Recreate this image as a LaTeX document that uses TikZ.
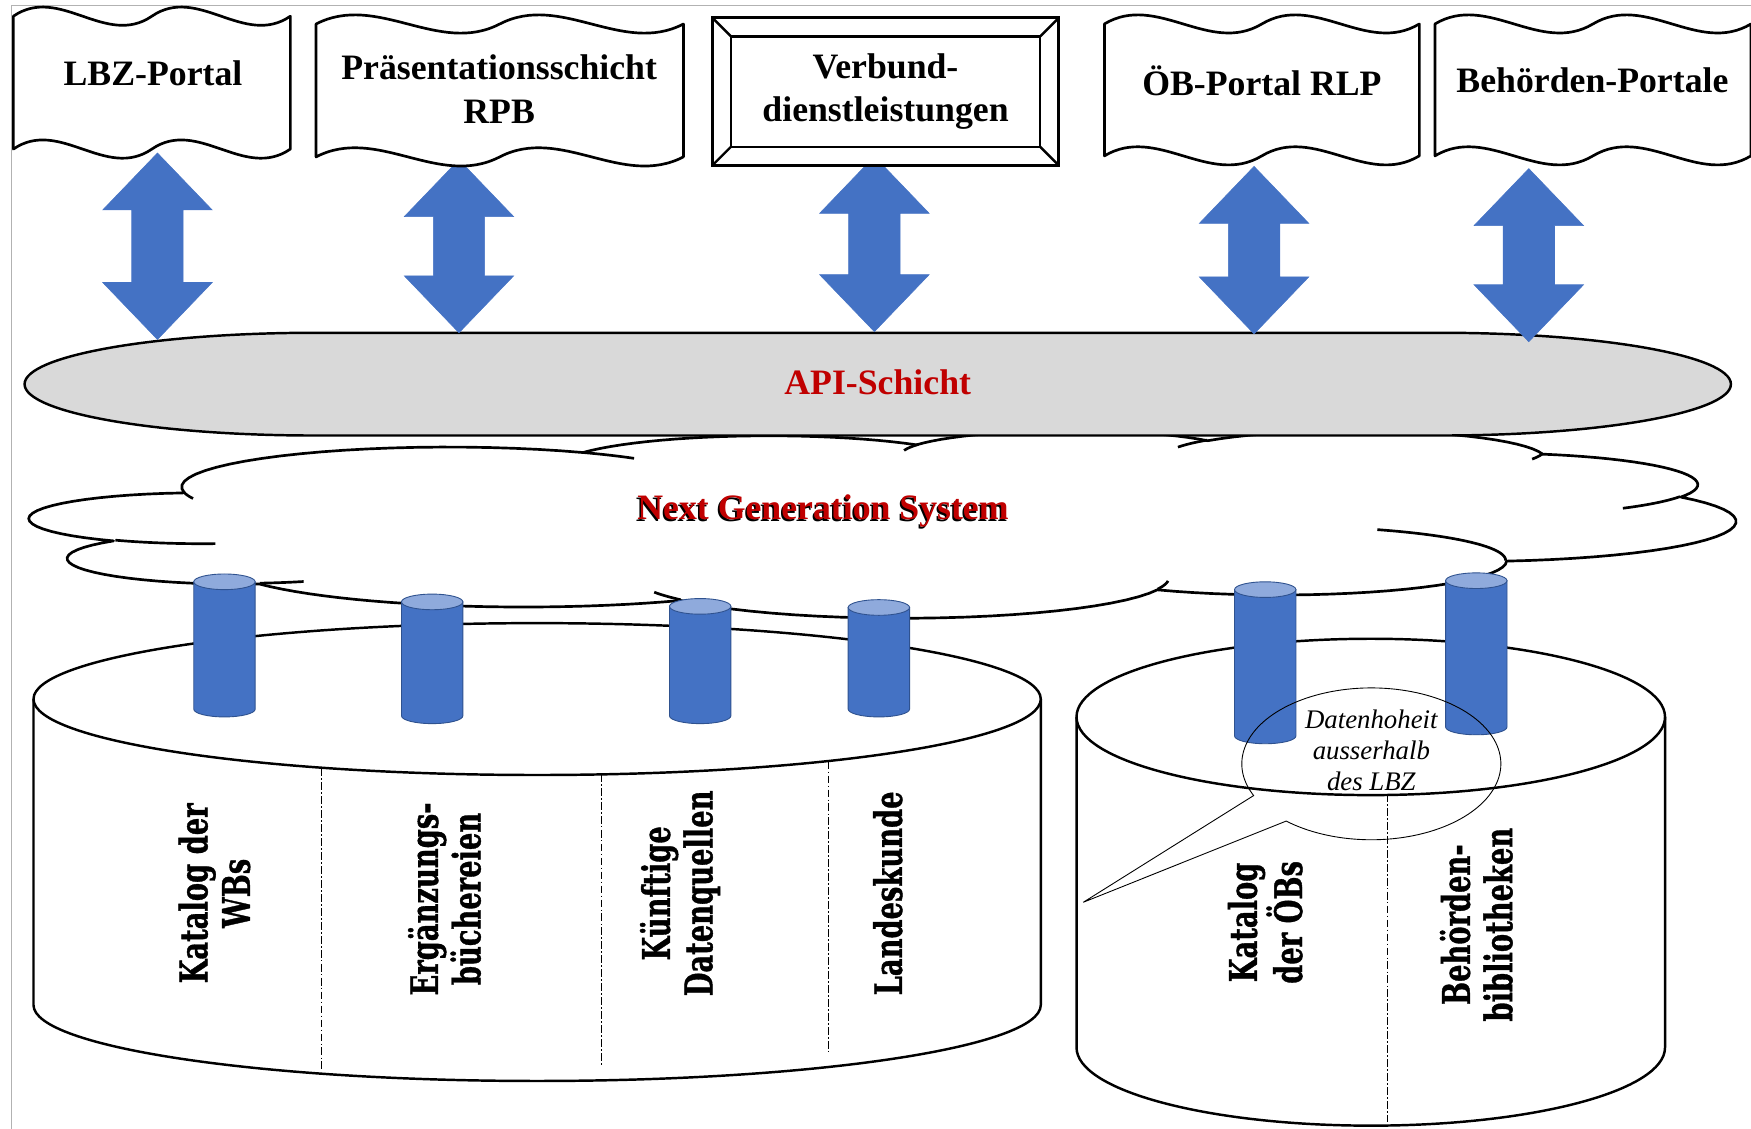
\documentclass[tikz,border=0pt]{standalone}
\usepackage{fontspec}
\setmainfont{Liberation Serif}
\newfontfamily\slabfont{DejaVu Serif}[BoldFeatures={FakeBold=1.2}]
\definecolor{ablue}{HTML}{4472C4}
\definecolor{alight}{HTML}{8FAADC}
\definecolor{aedge}{HTML}{2F528F}
\definecolor{agray}{HTML}{D9D9D9}
\definecolor{ared}{HTML}{C00000}

\tikzset{
 outline/.style={draw=black, line width=2.2pt},
 docshape/.style={draw=black, line width=2.4pt, fill=white, line join=round},
 cloudline/.style={draw=black, line width=2.4pt, line join=round},
 head/.style={font=\fontsize{32}{39}\selectfont\bfseries, align=center, inner sep=0pt},
 redlabel/.style={font=\fontsize{32}{39}\selectfont\bfseries, text=ared, inner sep=0pt},
 vlabel/.style={font=\slabfont\fontsize{34}{38}\selectfont\bfseries, align=center, rotate=90, xscale=0.72, inner sep=0pt},
 sepline/.style={draw=black, line width=0.8pt, dash pattern=on 7pt off 2pt on 1.5pt off 2pt},
 tubebody/.style={fill=ablue, draw=aedge, line width=0.8pt},
 tubetop/.style={fill=alight, draw=aedge, line width=0.8pt},
 blockarrow/.style={fill=ablue, draw=ablue, line width=0.5pt},
 callout/.style={draw=black, line width=0.8pt},
 calltext/.style={font=\fontsize{24}{27.5}\selectfont\itshape, align=center, inner sep=0pt},
}

% --- OOXML-style arc helper (visual angles -> parametric) ---
\newcommand\ooarc[4]{%
  \pgfmathsetmacro\cldS{atan2((#1)*sin(#3),(#2)*cos(#3))}%
  \pgfmathsetmacro\cldA{atan2((#1)*sin((#3)+(#4)),(#2)*cos((#3)+(#4)))}%
  \pgfmathsetmacro\cldE{\cldS+mod(\cldA-(\cldS)+720,360)}%
  \pgfmathsetmacro\cldcX{\curX-(#1)*cos(\cldS)}%
  \pgfmathsetmacro\cldcY{\curY-(#2)*sin(\cldS)}%
  \pgfmathsetmacro\cldnX{\cldcX+(#1)*cos(\cldE)}%
  \pgfmathsetmacro\cldnY{\cldcY+(#2)*sin(\cldE)}%
  \xdef\curX{\cldnX}\xdef\curY{\cldnY}%
  \xdef\cldacc{\unexpanded\expandafter{\cldacc} -- plot[domain=\cldS:\cldE,samples=25,variable=\noexpand\t] ({\cldcX+#1*cos(\noexpand\t)},{\cldcY+#2*sin(\noexpand\t)})}%
}
\newcommand\cloudhook[6]{%
  \xdef\cldacc{\unexpanded\expandafter{\cldacc} (#1,#2)}\xdef\curX{#1}\xdef\curY{#2}%
  \ooarc{#3}{#4}{#5}{#6}}

\newcommand\Doc[4]{%
 \pgfmathsetmacro\dYt{#2+0.0625*#4}%
 \pgfmathsetmacro\dYb{#2+#4-0.0625*#4}%
 \pgfmathsetmacro\dCc{0.2083*#4}%
 \pgfmathsetmacro\dXa{#1+#3/6}\pgfmathsetmacro\dXb{#1+#3/3}\pgfmathsetmacro\dXc{#1+#3/2}%
 \pgfmathsetmacro\dXd{#1+2*#3/3}\pgfmathsetmacro\dXe{#1+5*#3/6}\pgfmathsetmacro\dXf{#1+#3}%
 \pgfmathsetmacro\dYtu{\dYt-\dCc}\pgfmathsetmacro\dYtd{\dYt+\dCc}%
 \pgfmathsetmacro\dYbu{\dYb-\dCc}\pgfmathsetmacro\dYbd{\dYb+\dCc}%
 \path[docshape] (#1,\dYt) .. controls (\dXa,\dYtu) and (\dXb,\dYtd) .. (\dXc,\dYt) .. controls (\dXd,\dYtu) and (\dXe,\dYtd) .. (\dXf,\dYt) -- (\dXf,\dYb) .. controls (\dXe,\dYbd) and (\dXd,\dYbu) .. (\dXc,\dYb) .. controls (\dXb,\dYbd) and (\dXa,\dYbu) .. (#1,\dYb) -- cycle;
}

\newcommand\UDA[3]{\path[blockarrow] (#1,#2) -- ({#1+49},{#2+51}) -- ({#1+23},{#2+51}) -- ({#1+23},{#3-51}) -- ({#1+49},{#3-51}) -- (#1,#3) -- ({#1-49},{#3-51}) -- ({#1-23},{#3-51}) -- ({#1-23},{#2+51}) -- ({#1-49},{#2+51}) -- cycle;}

\newcommand\Cyl[5]{%
 \path[fill=white] ({#1-#4},#2) -- ({#1-#4},#3) .. controls ({#1-#4},{#3+0.5523*#5}) and ({#1-0.5523*#4},{#3+#5}) .. (#1,{#3+#5}) .. controls ({#1+0.5523*#4},{#3+#5}) and ({#1+#4},{#3+0.5523*#5}) .. ({#1+#4},#3) -- ({#1+#4},#2) -- cycle;
 \draw[outline] ({#1-#4},#2) -- ({#1-#4},#3) .. controls ({#1-#4},{#3+0.5523*#5}) and ({#1-0.5523*#4},{#3+#5}) .. (#1,{#3+#5}) .. controls ({#1+0.5523*#4},{#3+#5}) and ({#1+#4},{#3+0.5523*#5}) .. ({#1+#4},#3) -- ({#1+#4},#2);
 \draw[outline, fill=white] (#1,#2) ellipse[x radius=#4, y radius=#5];
}

\newcommand\Tube[3]{%
 \path[tubebody] ({#1-27.5},{#2+7}) -- ({#1-27.5},{#3-7}) .. controls ({#1-27.5},{#3-3.13}) and ({#1-15.19},#3) .. (#1,#3) .. controls ({#1+15.19},#3) and ({#1+27.5},{#3-3.13}) .. ({#1+27.5},{#3-7}) -- ({#1+27.5},{#2+7}) -- cycle;
 \path[tubetop] (#1,{#2+7}) ellipse[x radius=27.5, y radius=7];
}

\begin{document}
\begin{tikzpicture}[x=1pt,y=-1pt]
\useasboundingbox (0,0) rectangle (1568,1011);
\draw[gray!60, line width=0.8pt] (10,1011) -- (10,5) -- (1568,5);

% ---------- cloud (Next Generation System) ----------
\xdef\cldacc{(390,1437)}\xdef\curX{390}\xdef\curY{1437}%
\ooarc{675.3}{919.0}{-190.48748}{123.78053}%
\ooarc{533.3}{726.7}{-144.10238}{89.94523}%
\ooarc{436.5}{594.5}{-145.80792}{99.72302}%
\ooarc{485.7}{659.5}{-130.98607}{117.24173}%
\ooarc{533.3}{727.3}{-78.70888}{109.02692}%
\ooarc{677.5}{922.0}{-46.26725}{130.26900}%
\ooarc{578.5}{786.7}{0.62502}{114.03333}%
\ooarc{675.2}{921.5}{22.45160}{115.17255}%
\ooarc{772.0}{1054.3}{66.24263}{75.71102}%
\ooarc{436.0}{591.8}{-274.94208}{146.73557}%
\ooarc{434.5}{594.5}{-246.82850}{152.51885}%
\global\let\cpathmain\cldacc
\xdef\cldacc{}%
\cloudhook{469.3}{2617.7}{434.5}{594.5}{86.74200}{26.42950}%
\cloudhook{692.8}{3489.9}{436.0}{591.8}{73.61047}{11.44747}%
\cloudhook{1647.8}{3909.0}{675.2}{921.5}{137.62415}{14.08110}%
\cloudhook{2882.7}{3475.1}{675.2}{921.5}{6.45327}{15.99835}%
\cloudhook{3412.9}{2295.4}{578.5}{786.7}{-70.29235}{70.91737}%
\cloudhook{4179.8}{1535.4}{533.3}{727.3}{30.31803}{27.75150}%
\cloudhook{3832.4}{542.6}{485.7}{659.5}{13.74433}{14.85890}%
\cloudhook{2907.8}{395.2}{485.7}{659.5}{-149.18145}{18.19537}%
\cloudhook{2214.1}{472.0}{436.5}{594.5}{-163.49427}{17.68635}%
\cloudhook{1400.0}{519.2}{675.3}{919.0}{-66.70695}{12.31935}%
\cloudhook{412.7}{1578.9}{675.3}{919.0}{157.65435}{11.85817}%
\global\let\cpathhooks\cldacc
\begin{scope}[shift={(27,385)}, xscale=0.35347, yscale=0.038889]
 \path[cloudline, fill=white] \cpathmain -- cycle;
 \path[cloudline] \cpathhooks;
\end{scope}
\node[redlabel, text=black] (ngsshadow) at (735.6,459.4) {Next Generation System};
\node[redlabel] (ngs) at (737,458) {Next Generation System};

% ---------- API layer ----------
\path[outline, fill=agray] (282,298) -- (1290,298) .. controls (1433.6,298) and (1550,318.6) .. (1550,344) .. controls (1550,369.4) and (1433.6,390) .. (1290,390) -- (282,390) .. controls (138.4,390) and (22,369.4) .. (22,344) .. controls (22,318.6) and (138.4,298) .. (282,298) -- cycle;
\node[redlabel] (api) at (786,342) {API-Schicht};

% ---------- double arrows ----------
\UDA{141}{137}{304}
\UDA{411}{143}{298}
\UDA{783}{140}{297}
\UDA{1123}{149}{299}
\UDA{1369}{151}{306}

% ---------- top documents ----------
\Doc{12}{6}{248}{136}
\Doc{283}{13}{329}{136}
\Doc{989}{13}{282}{135}
\Doc{1285}{13}{283}{135}
\path[draw=black, line width=2.5pt, fill=white] (638,16) rectangle (948,148);
\draw[black, line width=2.2pt] (654.5,32.5) rectangle (931.5,131.5);
\draw[black, line width=2.2pt] (638,16) -- (654.5,32.5) (948,16) -- (931.5,32.5) (638,148) -- (654.5,131.5) (948,148) -- (931.5,131.5);

\node[head] (lbz) at (137,66) {LBZ-Portal};
\node[head] (praes) at (447,80) {Präsentationsschicht\\RPB};
\node[head] (verb) at (793,82) {Verbund-\\dienstleistungen};
\node[head] (oeb) at (1130,72) {ÖB-Portal RLP};
\node[head] (beh) at (1426,72) {Behörden-Portale};

% ---------- data cylinders ----------
\Cyl{481}{626}{900}{451}{68}
\Cyl{1227.5}{642}{938}{263.5}{70}
\draw[sepline] (288,688) -- (288,958);
\draw[sepline] (539,693) -- (539,955);
\draw[sepline] (742,682) -- (742,942);
\draw[sepline] (1242,711) -- (1242,1005);

\node[vlabel] (katwb) at (192,800) {Katalog der\\WBs};
\node[vlabel] (erg) at (398,805) {Ergänzungs-\\büchereien};
\node[vlabel] (kuen) at (609,800) {Künftige\\Datenquellen};
\node[vlabel] (land) at (795,800) {Landeskunde};
\node[vlabel] (katoeb) at (1133,826) {Katalog\\der ÖBs};
\node[vlabel] (behb) at (1322,828) {Behörden-\\bibliotheken};

% ---------- connectors (tubes) ----------
\Tube{201}{514}{642}
\Tube{387}{532}{648}
\Tube{627}{536}{648}
\Tube{787}{537}{642}
\Tube{1133}{521}{666}
\Tube{1322}{513}{658}

% ---------- callout ----------
\coordinate (tip) at (970,808);
\path[callout] plot[domain=155.3:491.1, samples=140, variable=\t] ({1228+116*cos(\t)},{684+68*sin(\t)}) -- (tip) -- cycle;
\node[calltext] (dh) at (1228,672) {Datenhoheit\\ausserhalb\\des LBZ};
\end{tikzpicture}
\end{document}
